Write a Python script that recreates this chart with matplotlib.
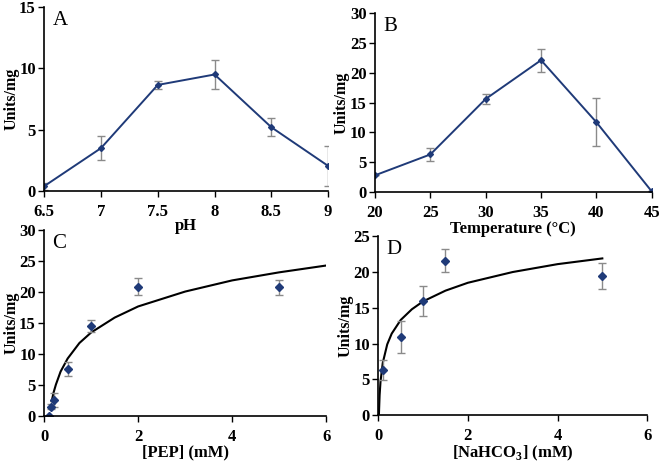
import matplotlib.pyplot as plt

plt.rcParams["font.family"] = ["Liberation Serif", "DejaVu Serif"]
plt.rcParams["font.weight"] = "bold"
plt.rcParams["mathtext.fontset"] = "custom"
plt.rcParams["mathtext.rm"] = "Liberation Serif"
plt.rcParams["mathtext.bf"] = "Liberation Serif:bold"

# panel A: pH
ph = [6.5, 7, 7.5, 8, 8.5, 9]
ph_act = [0.4, 3.5, 8.65, 9.5, 5.2, 2.05]
ph_err = [0.3, 1.0, 0.3, 1.2, 0.75, 1.6]

# panel B: temperature
temp = [20, 25, 30, 35, 40, 45]
temp_act = [2.8, 6.3, 15.6, 22.1, 11.7, 0.1]
temp_err = [0.0, 1.1, 0.8, 1.9, 4.0, 0.0]

# panel C: PEP
pep = [0.1, 0.15, 0.2, 0.5, 1, 2, 5]
pep_act = [0.0, 1.5, 2.6, 7.6, 14.5, 20.9, 20.8]
pep_err = [0.0, 0.4, 1.1, 1.1, 1.0, 1.4, 1.2]
pep_fit_x = [0.16, 0.2, 0.25, 0.35, 0.5, 0.75, 1, 1.5, 2, 3, 4, 5, 6]
pep_fit_y = [2.4, 3.8, 5.1, 7.2, 9.3, 11.8, 13.5, 15.9, 17.7, 20.1, 21.9, 23.2, 24.3]

# panel D: NaHCO3
bic = [0.1, 0.5, 1, 1.5, 5]
bic_act = [6.3, 10.9, 15.9, 21.6, 19.4]
bic_err = [1.4, 2.2, 2.1, 1.6, 1.8]
bic_fit_x = [0.015, 0.03, 0.05, 0.1, 0.2, 0.3, 0.5, 0.75, 1, 1.5, 2, 3, 4, 5]
bic_fit_y = [0.2, 2.8, 4.7, 7.3, 9.9, 11.4, 13.3, 14.8, 15.9, 17.4, 18.5, 20.0, 21.1, 21.9]

navy = "#1f3a78"
grey = "#8a8a8a"

fig = plt.figure(figsize=(6.59, 4.65), dpi=100)
axA = fig.add_axes([0.067, 0.589, 0.431, 0.396])
axB = fig.add_axes([0.569, 0.587, 0.420, 0.385])
axC = fig.add_axes([0.067, 0.105, 0.428, 0.400])
axD = fig.add_axes([0.574, 0.107, 0.408, 0.385])


def style(ax, letter):
    ax.patch.set_visible(False)
    for s in ["top", "right"]:
        ax.spines[s].set_visible(False)
    for s in ["left", "bottom"]:
        ax.spines[s].set_linewidth(1.2)
    ax.tick_params(direction="out", length=4, width=1, labelsize=12)
    ax.tick_params(axis="x", pad=5)
    ax.tick_params(axis="y", pad=2)
    for lab in ax.get_xticklabels() + ax.get_yticklabels():
        lab.set_fontweight("bold")
    ax.set_ylabel("Units/mg", fontsize=11.5, fontweight="bold", labelpad=0)
    ax.text(0.03, 0.98, letter, transform=ax.transAxes, fontsize=15,
            fontweight="normal", va="top", ha="left")


axA.errorbar(ph, ph_act, yerr=ph_err, color=navy, lw=1.4, marker="D", ms=3,
             ecolor=grey, elinewidth=1, capsize=3, capthick=1)
axA.set_xlim(6.5, 9)
axA.set_ylim(0, 15)
axA.set_xticks([6.5, 7, 7.5, 8, 8.5, 9])
axA.set_xticklabels(["6.5", "7", "7.5", "8", "8.5", "9"])
axA.set_yticks([0, 5, 10, 15])
axA.set_xlabel("pH", fontsize=12, fontweight="bold", labelpad=-1)
style(axA, "A")

axB.errorbar(temp, temp_act, yerr=temp_err, color=navy, lw=1.4, marker="D", ms=3,
             ecolor=grey, elinewidth=1, capsize=3, capthick=1)
axB.set_xlim(20, 45)
axB.set_ylim(0, 30)
axB.set_xticks([20, 25, 30, 35, 40, 45])
axB.set_yticks([0, 5, 10, 15, 20, 25, 30])
axB.set_xlabel("Temperature (°C)", fontsize=12, fontweight="bold", labelpad=0)
style(axB, "B")

axC.plot(pep_fit_x, pep_fit_y, color="black", lw=1.5)
axC.errorbar(pep, pep_act, yerr=pep_err, fmt="D", color=navy, ms=4.5,
             ecolor=grey, elinewidth=1, capsize=3, capthick=1)
axC.set_xlim(0, 6)
axC.set_ylim(0, 30)
axC.set_xticks([0, 2, 4, 6])
axC.set_yticks([0, 5, 10, 15, 20, 25, 30])
axC.set_xlabel("[PEP] (mM)", fontsize=12, fontweight="bold", labelpad=0)
style(axC, "C")

axD.plot(bic_fit_x, bic_fit_y, color="black", lw=1.5)
axD.errorbar(bic, bic_act, yerr=bic_err, fmt="D", color=navy, ms=4.5,
             ecolor=grey, elinewidth=1, capsize=3, capthick=1)
axD.set_xlim(0, 6)
axD.set_ylim(0, 25)
axD.set_xticks([0, 2, 4, 6])
axD.set_yticks([0, 5, 10, 15, 20, 25])
axD.set_xlabel("[NaHCO$_\\mathbf{3}$] (mM)", fontsize=12, fontweight="bold", labelpad=0)
style(axD, "D")

fig.savefig("out.png", dpi=100)
